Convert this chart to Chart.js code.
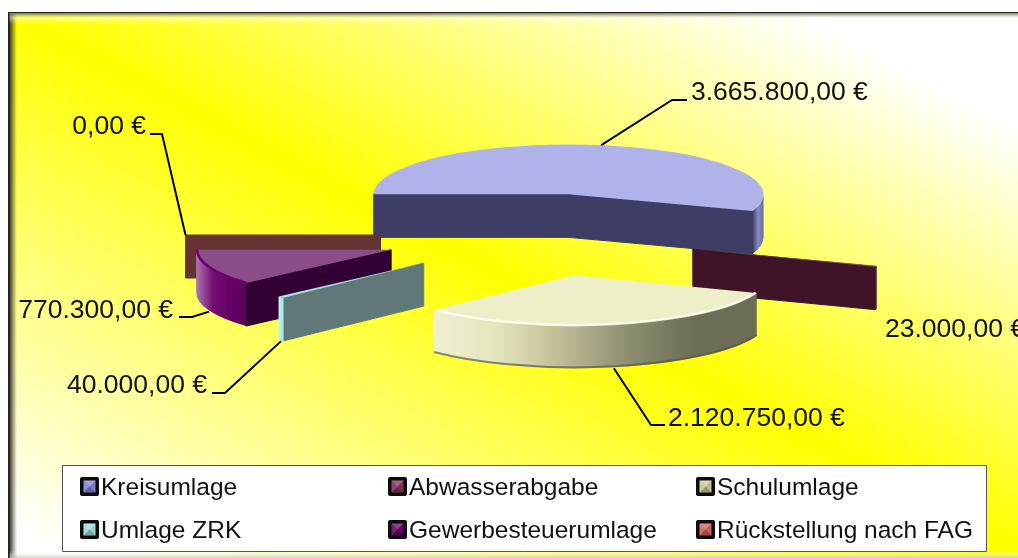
<!DOCTYPE html>
<html>
<head>
<meta charset="utf-8">
<style>
  html, body { margin: 0; padding: 0; background: #fff; overflow: hidden; }
  #canvas-chart { display: block; }
</style>
<script src="https://cdn.jsdelivr.net/npm/chart.js@4"></script>
</head>
<body>
<canvas id="canvas-chart" width="1018" height="558"></canvas>
<script>
const categories = ["Kreisumlage", "Abwasserabgabe", "Schulumlage", "Umlage ZRK", "Gewerbesteuerumlage", "Rückstellung nach FAG"];
const amounts = [3665800, 23000, 2120750, 40000, 770300, 0];

// look of each slice
const topColors = ["#b0b3ea", "#8a4f6c", "#eeeec8", "#a5e3ec", "#8b4e8b", "#b06060"];
const wallColors = ["#3d3d66", "#401428", "#8e8e70", "#607878", "#320032", "#663333"];
const rimColors = [
    ["#3d3d66", "#8a8ac4", "#6a6a9c"],
    ["#401428", "#5a2a40"],
    ["#f0f0d2", "#e4e4bc", "#bdbb94", "#8e8e70", "#6e6e56", "#6c6c54"],
    ["#c4f0f4", "#a5e3ec"],
    ["#b078b0", "#741074", "#660066", "#5a005a"],
    ["#663333", "#663333"],
];
const keyColors = ["#8080d0", "#8a2f5c", "#c8c89a", "#a0dada", "#660066", "#d06060"];
const edgeColors = [null, null, "rgba(255,255,245,0.8)", null, "#700070", null];

// leader lines and value labels, [elbow x, elbow y, end x], [text x, baseline, align]
const leaders = [[672, 100, 687], null, [651, 425, 665], [225, 393, 212], [192, 317, 179], [162, 134, 150]];
const labelSpots = [[691, 100, "left"], [885, 337, "left"], [668, 426, "left"], [207, 393, "right"], [173, 318, "right"], [146, 134, "right"]];

const squash = 0.256;
const depth = 43;
const drawOrder = [0, 1, 5, 4, 3, 2];
const euro = new Intl.NumberFormat("de-DE", { minimumFractionDigits: 2, maximumFractionDigits: 2 });

function sliceGeometry(arc) {
    const mid = (arc.startAngle + arc.endAngle) / 2;
    return {
        a0: arc.startAngle,
        a1: arc.endAngle,
        mid: mid,
        r: arc.outerRadius,
        x: arc.x + Math.cos(mid) * arc.options.offset,
        y: arc.y + Math.sin(mid) * arc.options.offset * squash,
    };
}

function wall(ctx, g, angle, color) {
    const rx = g.x + Math.cos(angle) * g.r;
    const ry = g.y + Math.sin(angle) * g.r * squash;
    ctx.fillStyle = color;
    ctx.strokeStyle = color;
    ctx.lineWidth = 1;
    ctx.lineJoin = "round";
    ctx.beginPath();
    ctx.moveTo(g.x, g.y);
    ctx.lineTo(rx, ry);
    ctx.lineTo(rx, ry + depth);
    ctx.lineTo(g.x, g.y + depth);
    ctx.closePath();
    ctx.fill();
    ctx.stroke();
}

function drawSlice(ctx, g, i) {
    if (Math.cos(g.a0) < 0) wall(ctx, g, g.a0, wallColors[i]);
    if (Math.cos(g.a1) > 0) wall(ctx, g, g.a1, wallColors[i]);

    // round outer side, only the part that faces us
    const s = Math.max(g.a0, 0);
    const e = Math.min(g.a1, Math.PI);
    if (e > s) {
        const xs = g.x + Math.cos(s) * g.r;
        const xe = g.x + Math.cos(e) * g.r;
        const grad = ctx.createLinearGradient(Math.min(xs, xe), 0, Math.max(xs, xe), 0);
        // the big slice: gradient runs over the short visible piece at its right end
        const stops = i === 0 ? [rimColors[0][0], rimColors[0][1], rimColors[0][2]] : rimColors[i];
        stops.forEach((c, k) => grad.addColorStop(k / (stops.length - 1), c));
        ctx.fillStyle = grad;
        ctx.beginPath();
        ctx.ellipse(g.x, g.y, g.r, g.r * squash, 0, s, e);
        ctx.ellipse(g.x, g.y + depth, g.r, g.r * squash, 0, e, s, true);
        ctx.closePath();
        ctx.fill();
        if (i === 2) {
            ctx.strokeStyle = "rgba(90,90,66,0.7)";
            ctx.lineWidth = 2;
            ctx.beginPath();
            ctx.ellipse(g.x, g.y + depth - 1, g.r, g.r * squash, 0, s, e);
            ctx.stroke();
        }
    }

    ctx.fillStyle = topColors[i];
    ctx.beginPath();
    ctx.moveTo(g.x, g.y);
    ctx.ellipse(g.x, g.y, g.r, g.r * squash, 0, g.a0, g.a1);
    ctx.closePath();
    ctx.fill();

    if (edgeColors[i]) {
        ctx.strokeStyle = edgeColors[i];
        ctx.lineWidth = 2.5;
        ctx.beginPath();
        ctx.ellipse(g.x, g.y, g.r - 1, (g.r - 1) * squash, 0, g.a0, g.a1);
        ctx.stroke();
    }
}

function drawLabels(ctx, g, i) {
    const lowerHalf = Math.sin(g.mid) > 0.01;
    const ax = g.x + Math.cos(g.mid) * g.r;
    const ay = g.y + Math.sin(g.mid) * g.r * squash + (lowerHalf ? depth + 1 : 0);
    if (leaders[i]) {
        ctx.strokeStyle = "#000";
        ctx.lineWidth = 2;
        ctx.beginPath();
        ctx.moveTo(ax, ay);
        ctx.lineTo(leaders[i][0], leaders[i][1]);
        ctx.lineTo(leaders[i][2], leaders[i][1]);
        ctx.stroke();
    }
    ctx.fillStyle = "#111";
    ctx.font = "26.5px 'Liberation Sans'";
    ctx.textAlign = labelSpots[i][2];
    ctx.textBaseline = "alphabetic";
    ctx.fillText(euro.format(amounts[i]) + " €", labelSpots[i][0], labelSpots[i][1]);
}

function drawKey(ctx, x, y, color) {
    ctx.fillStyle = "#0c0c0c";
    ctx.beginPath();
    ctx.roundRect(x, y, 19, 19, 2);
    ctx.fill();
    const ix = x + 3.5, iy = y + 3.5, w = 12;
    const faces = [
        [[ix, iy], [ix + w, iy], [ix + w / 2, iy + w / 2], "rgba(255,255,255,0.25)"],
        [[ix + w, iy], [ix + w, iy + w], [ix + w / 2, iy + w / 2], "rgba(0,0,0,0.05)"],
        [[ix, iy + w], [ix + w, iy + w], [ix + w / 2, iy + w / 2], "rgba(0,0,0,0.25)"],
        [[ix, iy], [ix, iy + w], [ix + w / 2, iy + w / 2], "rgba(255,255,255,0.1)"],
    ];
    ctx.fillStyle = color;
    ctx.fillRect(ix, iy, w, w);
    faces.forEach(f => {
        ctx.fillStyle = f[3];
        ctx.beginPath();
        ctx.moveTo(f[0][0], f[0][1]);
        ctx.lineTo(f[1][0], f[1][1]);
        ctx.lineTo(f[2][0], f[2][1]);
        ctx.closePath();
        ctx.fill();
    });
}

function drawLegend(ctx) {
    ctx.fillStyle = "#fff";
    ctx.fillRect(62.5, 465.5, 924, 86);
    ctx.strokeStyle = "#555";
    ctx.lineWidth = 1;
    ctx.strokeRect(62.5, 465.5, 924, 86);
    ctx.font = "24.5px 'Liberation Sans'";
    ctx.textAlign = "left";
    ctx.textBaseline = "alphabetic";
    categories.forEach((name, i) => {
        const x = 80 + (i % 3) * 308;
        const y = 477 + Math.floor(i / 3) * 43;
        drawKey(ctx, x, y, keyColors[i]);
        ctx.fillStyle = "#111";
        ctx.fillText(name, x + 21, y + 18);
    });
}

function drawFrame(ctx) {
    const w = 1018, h = 558;
    ctx.fillStyle = "#fff";
    ctx.fillRect(0, 0, w, h);
    const bg = ctx.createLinearGradient(673, -53, 289, 672);
    bg.addColorStop(0, "#ffffff");
    bg.addColorStop(0.45, "#ffff00");
    bg.addColorStop(1, "#ffffff");
    ctx.fillStyle = bg;
    ctx.fillRect(8, 12, w - 8, h - 12);

    // bevel round the chart area
    let g = ctx.createLinearGradient(9, 0, 17, 0);
    g.addColorStop(0, "rgba(30,30,30,0.95)");
    g.addColorStop(1, "rgba(60,60,30,0)");
    ctx.fillStyle = g;
    ctx.fillRect(9, 14, 8, h - 14);
    g = ctx.createLinearGradient(0, 14, 0, 24);
    g.addColorStop(0, "rgba(120,120,90,0.7)");
    g.addColorStop(0.4, "rgba(255,255,255,0.45)");
    g.addColorStop(1, "rgba(255,255,255,0)");
    ctx.fillStyle = g;
    ctx.fillRect(9, 14, w - 9, 10);
    g = ctx.createLinearGradient(0, 551, 0, 558);
    g.addColorStop(0, "rgba(255,255,255,0)");
    g.addColorStop(1, "rgba(200,200,190,0.8)");
    ctx.fillStyle = g;
    ctx.fillRect(9, 551, w - 9, 7);

    ctx.fillStyle = "#222";
    ctx.fillRect(8, 12, w - 8, 1.5);
    ctx.fillRect(8, 12, 1.5, h - 12);
}

const pie3d = {
    id: "pie3d",
    beforeDraw(chart) {
        drawFrame(chart.ctx);
    },
    beforeDatasetDraw(chart) {
        const ctx = chart.ctx;
        const arcs = chart.getDatasetMeta(0).data;
        drawOrder.forEach(i => drawSlice(ctx, sliceGeometry(arcs[i]), i));
        return false;
    },
    afterDatasetsDraw(chart) {
        const ctx = chart.ctx;
        const arcs = chart.getDatasetMeta(0).data;
        arcs.forEach((arc, i) => drawLabels(ctx, sliceGeometry(arc), i));
        drawLegend(ctx);
    },
};

new Chart(document.getElementById("canvas-chart"), {
    type: "pie",
    data: {
        labels: categories,
        datasets: [{ data: amounts, backgroundColor: topColors, borderWidth: 0, offset: 161 }],
    },
    options: {
        responsive: false,
        animation: false,
        devicePixelRatio: 1,
        rotation: -90,
        radius: 195,
        layout: { padding: { left: 65, bottom: 88 } },
        plugins: { legend: { display: false }, tooltip: { enabled: false } },
    },
    plugins: [pie3d],
});
</script>
</body>
</html>
